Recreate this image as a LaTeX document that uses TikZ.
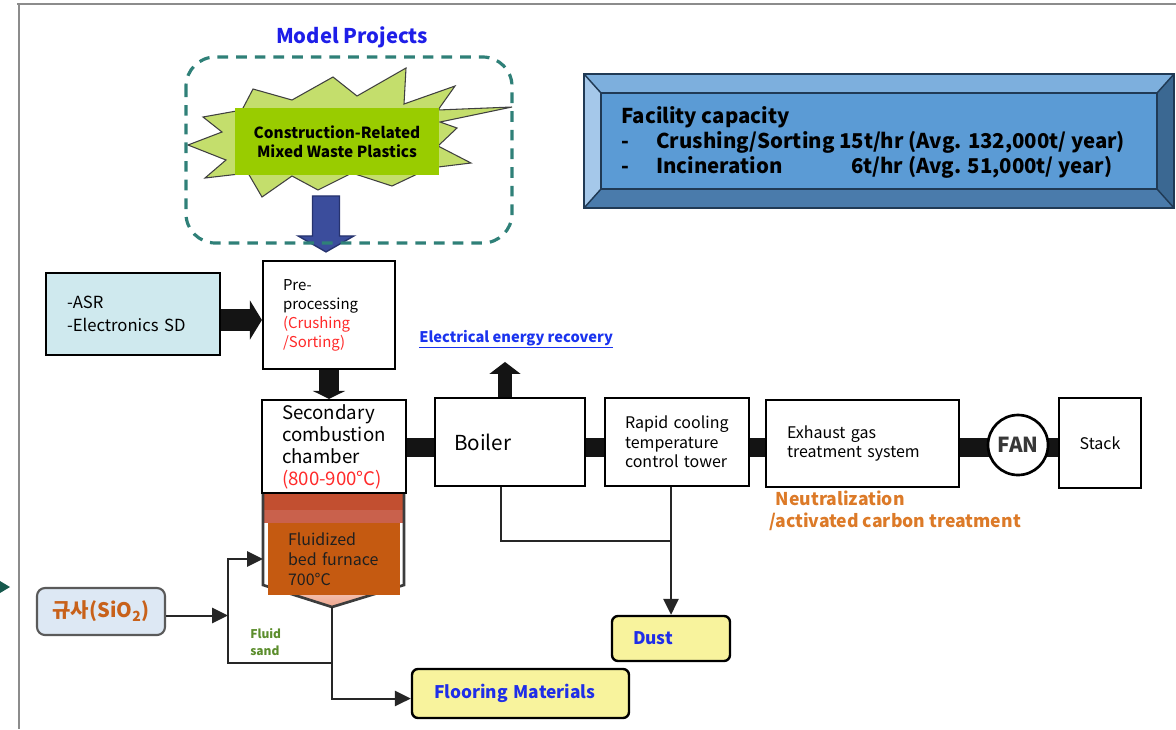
\documentclass[tikz,border=0pt]{standalone}
\usepackage{fontspec}
\setmainfont{Noto Sans CJK KR}
\usetikzlibrary{arrows.meta,calc}
\newcommand\setfs[2]{\fontsize{#1}{#2}\selectfont}
\newcommand\oneline[1]{\mbox{#1}}
\definecolor{frameg}{HTML}{8C8C8C}
\definecolor{edgeteal}{HTML}{16594D}
\definecolor{mpblue}{HTML}{1E1EE8}
\definecolor{dashteal}{HTML}{2F8078}
\definecolor{starfill}{HTML}{C4DE6C}
\definecolor{starline}{HTML}{404040}
\definecolor{wgreen}{HTML}{99CC00}
\definecolor{ablue}{HTML}{3B4D9C}
\definecolor{abluedark}{HTML}{26336E}
\definecolor{fcenter}{HTML}{5B9BD5}
\definecolor{ftop}{HTML}{7DAFDD}
\definecolor{fleft}{HTML}{A5C8EA}
\definecolor{fright}{HTML}{3B6892}
\definecolor{fbottom}{HTML}{4A7BAB}
\definecolor{fline}{HTML}{203A55}
\definecolor{asrfill}{HTML}{CFE9EE}
\definecolor{tred}{HTML}{FF2A2A}
\definecolor{lineg}{HTML}{262626}
\definecolor{barblack}{HTML}{141414}
\definecolor{fntop}{HTML}{C24F30}
\definecolor{fnband}{HTML}{C9614C}
\definecolor{fbfill}{HTML}{C55A11}
\definecolor{fvtop}{HTML}{F7CFC0}
\definecolor{fvbot}{HTML}{EEA58D}
\definecolor{fnline}{HTML}{3C3C3C}
\definecolor{sifill}{HTML}{DDE8F4}
\definecolor{siline}{HTML}{5A5A5A}
\definecolor{sitext}{HTML}{C8611A}
\definecolor{fgreen}{HTML}{5B8D2C}
\definecolor{yfill}{HTML}{F8F39D}
\definecolor{tblue}{HTML}{1F2EE8}
\definecolor{norange}{HTML}{DC7A28}
\definecolor{elblue}{HTML}{1A33EE}
\pgfdeclarelayer{bg}
\pgfsetlayers{bg,main}
\begin{document}
\begin{tikzpicture}[x=0.75pt,y=-0.75pt,
  procbox/.style={draw=black, line width=1.6pt, fill=white, inner ysep=0pt, align=left},
  outbox/.style={draw=black, line width=1.8pt, fill=yfill, rounded corners=4.5pt, inner ysep=0pt,
    align=left, text=tblue, font=\bfseries\setfs{13}{16}},
  thinln/.style={draw=lineg, line width=1.5pt},
  tipped/.style={-{Triangle[length=12pt,width=11.5pt]}},
  heavy/.style={draw=barblack},
  barline/.style={draw=barblack, line width=14.5pt}]
\useasboundingbox (0,0) rectangle (1176,729);

% page frame and edge marker
\draw[frameg, line width=1.5pt] (17,4) -- (1176,4);
\draw[frameg, line width=1.5pt] (19,4) -- (19,729);
\fill[edgeteal] (0,581) -- (10,587) -- (0,593) -- cycle;

% model project group
\node[font=\bfseries\setfs{15.2}{18}, text=mpblue, inner sep=0] (mp) at (352,37) {Model Projects};
\filldraw[fill=starfill, draw=starline, line width=0.8pt]
  (203,117) -- (242,110) -- (253,89) -- (292,100) -- (333,77) -- (357,96) -- (406,68)
  -- (404,104) -- (455,86) -- (438,110) -- (512,107) -- (440,122) -- (457,128)
  -- (438,146) -- (471,163) -- (430,168) -- (392,186) -- (352,173) -- (318,190)
  -- (292,176) -- (262,197) -- (248,173) -- (205,178) -- (226,160) -- (188,145)
  -- (222,132) -- cycle;
\node[fill=wgreen, minimum width=153pt, minimum height=50.25pt, inner sep=0, align=center,
  font=\bfseries\setfs{11.5}{14.25}] (waste) at (337,141.5) {Construction-Related\\Mixed Waste Plastics};

% process boxes
\node[procbox, minimum width=130.5pt, minimum height=61.5pt, inner xsep=15.75pt, text width=99pt,
  fill=asrfill, font=\setfs{12.5}{17.25}] (asr) at (133,314) {-ASR\\-Electronics SD};
\node[procbox, minimum width=99pt, minimum height=81pt, inner xsep=15pt, text width=69pt,
  font=\setfs{11.2}{14.25}] (pre) at (329,315)
  {Pre-\\processing\\\textcolor{tred}{(Crushing}\\\textcolor{tred}{/Sorting)}};

% fluidized bed furnace body
\fill[white] (263,493) rectangle (404,585);
\fill[fntop] (264,494) rectangle (403,510);
\fill[fnband] (264,510) rectangle (403,523);
\shade[top color=fvtop, bottom color=fvbot] (263,585) -- (332,607) -- (404,585) -- cycle;
\draw[fnline, line width=2pt] (263,493) -- (263,585) -- (332,607) -- (404,585) -- (404,493);
\node[fill=fbfill, minimum width=99pt, minimum height=54pt, inner xsep=15pt, inner ysep=0pt,
  text width=69pt, align=left, text=black!88, font=\setfs{12}{15}] (fbf) at (334,559)
  {Fluidized\\\oneline{bed furnace}\\700°C};
\coordinate (fin) at (263,559);
\coordinate (apex) at (332,607);

\node[procbox, minimum width=108pt, minimum height=69.75pt, inner xsep=15pt, text width=78pt,
  font=\setfs{14}{16.5}] (sec) at (334,446.5)
  {Secondary\\\oneline{combustion}\\chamber\\\textcolor{tred}{\oneline{(800-900°C)}}};
\node[procbox, minimum width=112.5pt, minimum height=66pt, inner xsep=14.25pt, text width=84pt,
  font=\setfs{15.5}{18}] (boiler) at (510,442) {Boiler};
\node[procbox, minimum width=108pt, minimum height=66pt, inner xsep=15pt, text width=78pt,
  font=\setfs{12}{14.6}] (rapid) at (677,442) {\oneline{Rapid cooling}\\temperature\\\oneline{control tower}};
\node[procbox, minimum width=144.75pt, minimum height=65.25pt, inner xsep=15.75pt, text width=113.25pt,
  font=\setfs{12}{14.25}] (exhaust) at (862.5,443.5) {Exhaust gas\\\oneline{treatment system}};
\node[circle, draw=black, line width=2pt, fill=white, minimum size=45pt, inner sep=0,
  text=black!78, font=\bfseries\setfs{15.5}{15.5}] (fan) at (1018,445) {FAN};
\node[procbox, minimum width=61.5pt, minimum height=67.5pt, inner xsep=0pt, align=center,
  font=\setfs{12}{14}] (stack) at (1100,443) {Stack};

% main gas duct behind the units
\coordinate (duct) at ($(sec.east)+(0,1)$);
\begin{pgfonlayer}{bg}
\draw[barline] (duct) -- (duct -| stack.west);
\end{pgfonlayer}

% material feeds
\draw[heavy, line width=16.5pt, -{Triangle[length=9pt,width=29pt]}]
  ($(asr.east)+(0,6)$) -- ($(pre.west)+(0,5)$);
\draw[heavy, line width=15pt, -{Triangle[length=6pt,width=24pt]}]
  (pre.south) -- (pre.south |- sec.north);
\coordinate (er) at ($(boiler.north)+(-5,-35)$);
\draw[heavy, line width=10pt, -{Triangle[length=9pt,width=23pt]}]
  ($(boiler.north)+(-5,0)$) -- (er);
\coordinate (bt) at ($(pre.north)+(-3,-8)$);
\filldraw[fill=ablue, draw=abluedark, line width=1pt]
  (bt) -- ++(-28,-16) -- ++(14.5,0) -- ++(0,-40) -- ++(27,0) -- ++(0,40) -- ++(14.5,0) -- cycle;
\draw[dashteal, line width=2.4pt, dash pattern=on 8pt off 6pt, rounded corners=22pt]
  (186,57) rectangle (512,243);

% facility capacity panel
\fill[ftop] (584,74) -- (1174,74) -- (1157,93) -- (601,93) -- cycle;
\fill[fleft] (584,74) -- (601,93) -- (601,189) -- (584,208) -- cycle;
\fill[fright] (1174,74) -- (1174,208) -- (1157,189) -- (1157,93) -- cycle;
\fill[fbottom] (584,208) -- (1174,208) -- (1157,189) -- (601,189) -- cycle;
\fill[fcenter] (601,93) rectangle (1157,189);
\draw[fline, line width=1.3pt] (584,74) rectangle (1174,208);
\draw[fline, line width=1.1pt] (601,93) rectangle (1157,189);
\draw[fline, line width=1.1pt] (584,74) -- (601,93) (1174,74) -- (1157,93)
  (584,208) -- (601,189) (1174,208) -- (1157,189);
\node[anchor=west, align=left, inner sep=0, font=\bfseries\setfs{15.3}{18.75}] (cap) at (621,142)
  {Facility capacity\\
   \makebox[26.25pt][l]{-}Crushing/Sorting 15t/hr (Avg. 132,000t/ year)\\
   \makebox[26.25pt][l]{-}\makebox[146.25pt][l]{Incineration}6t/hr (Avg. 51,000t/ year)};

% labels
\node[anchor=west, inner sep=0, text=elblue, font=\bfseries\setfs{11}{13}] (elec) at (419,339)
  {\underline{Electrical energy recovery}};
\node[anchor=west, align=left, inner sep=0, text=norange, font=\bfseries\setfs{13.2}{16.5}] (neut) at (769,511)
  {\hspace*{5pt}Neutralization\\/activated carbon treatment};
\node[anchor=west, align=left, inner sep=0, text=fgreen, font=\bfseries\setfs{9}{12.75}] (fsand) at (250,642)
  {Fluid\\sand};

% outputs and silica feed
\node[draw=siline, line width=1.6pt, fill=sifill, rounded corners=6pt, minimum width=96pt,
  minimum height=35.25pt, inner sep=0, text=sitext, font=\bfseries\setfs{15}{17}] (sio2) at (101,611.5)
  {규사(SiO\textsubscript{2})};
\node[outbox, minimum width=88.5pt, minimum height=33.75pt, inner xsep=15.75pt, text width=57pt] (dust)
  at (671,638.5) {Dust};
\node[outbox, minimum width=162.75pt, minimum height=36.75pt, inner xsep=16.5pt, text width=129.75pt] (floor)
  at (520.5,693.5) {\oneline{Flooring Materials}};

% sand loop and residue lines
\coordinate (fsj) at (332,663);
\coordinate (fsl) at (228,663);
\draw[thinln, tipped] (apex) |- ($(floor.west)+(0,5)$);
\draw[thinln, tipped] (fsj) -- (fsl) |- (fin);
\coordinate (sa) at ($(sio2.east)+(0,4)$);
\draw[thinln, tipped] (sa) -- (sa -| fsl);
\draw[thinln, tipped] (rapid.south -| dust.north) -- (dust.north);
\draw[thinln] ($(boiler.south)+(-9,0)$) |- ($(dust.north)+(0,-74)$);
\end{tikzpicture}
\end{document}
